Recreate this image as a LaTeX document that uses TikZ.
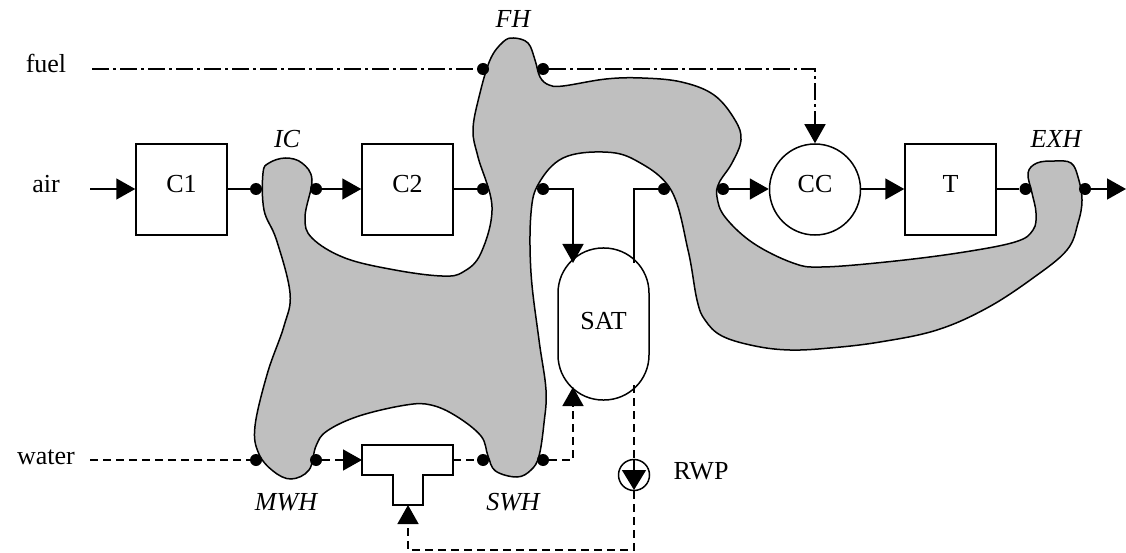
\documentclass[tikz,border=0pt]{standalone}
\usepackage{fontspec}
\setmainfont{Liberation Serif}
\usetikzlibrary{arrows.meta,calc}
\definecolor{hotgray}{HTML}{BFBFBF}
\tikzset{
  unitbox/.style={draw, line width=1.5pt, fill=white, minimum width=91pt, minimum height=91pt, inner sep=0pt, text height=14pt, text depth=7.6pt},
  ccbox/.style={unitbox, circle, minimum size=91pt},
  satbox/.style={draw, line width=1.5pt, fill=white, rounded corners=45pt, minimum width=91pt, minimum height=152pt, inner sep=0pt, text height=16pt, text depth=6pt},
  pumpbox/.style={draw, line width=1.5pt, circle, fill=white, minimum size=31pt, inner sep=0pt},
  port/.style={circle, fill=black, inner sep=0pt, minimum size=12pt},
  pipe/.style={line width=1.5pt},
  flowtip/.style={-{Triangle[length=19pt,width=21pt]}},
  waterline/.style={pipe, dash pattern=on 8pt off 5pt},
  fuelline/.style={pipe, dash pattern=on 17pt off 4pt on 3pt off 4pt},
  tag/.style={anchor=base, inner sep=0pt},
}
\begin{document}
\begin{tikzpicture}[x=1pt, y=-1pt, font=\fontsize{26}{30}\selectfont]
  \useasboundingbox (0,0) rectangle (1126,553);
  % heat exchanger composite
  \draw[fill=hotgray, line width=1.5pt] plot[smooth cycle, tension=0.62] coordinates {
    (285.5,158) (302,163) (312,180) (305,217) (312,238) (345,258) (395,270) (442,276)
    (463,272) (481,253) (492,207) (478,157) (473,130) (479,97) (490,60) (503,42)
    (513.5,38) (528,43) (535,60) (540,77) (549,85) (563,86) (606,79) (642,78)
    (681.5,82) (714,95) (735,120) (741,140) (732,163) (719,183) (717,197) (725,217)
    (753,243) (793,263) (821.5,267) (886,262) (958,253) (1015,242) (1033,230) (1036,213)
    (1032,193) (1028,173) (1037,163) (1055,161) (1071,163) (1078,177) (1082,200) (1078,223)
    (1067,250) (1033,278) (987,308) (937,330) (880,342) (830,348) (790,350) (755,346)
    (722,336) (705,320) (697,300) (688,250) (671,190) (635,160) (602.5,152) (563,158)
    (539,183) (531,213) (531,273) (539,340) (546,390) (544,423) (539,456) (531,470)
    (517,477) (495.5,471) (488,456) (481,436) (456,416) (431,405) (406,405) (359,416)
    (327,431) (316,446) (309,470) (291,479) (273,471) (258.5,453) (255,426) (267.5,373)
    (284,326) (290,293) (276.5,240) (264,210) (263,173) (269,163)};
  % units
  \node[unitbox] (c1) at (181.5,189.5) {C1};
  \node[unitbox] (c2) at (407.5,189.5) {C2};
  \node[ccbox] (cc) at (815,189.5) {CC};
  \node[unitbox] (turb) at (950.5,189.5) {T};
  \node[satbox] (sat) at (603.5,324) {SAT};
  \node[pumpbox] (rwp) at (634,475) {};
  % mixer
  \draw[fill=white, line width=1.5pt] (362,445) -- (453,445) -- (453,475) -- (423,475) -- (423,505) -- (393,505) -- (393,475) -- (362,475) -- cycle;
  \coordinate (mixin) at (362,460);
  \coordinate (mixout) at (453,460);
  \coordinate (mixret) at (408,505);
  % free ends
  \coordinate (airin) at (90,189);
  \coordinate (fuelin) at (92,69);
  \coordinate (waterin) at (90,460);
  \coordinate (exhout) at (1126,189);
  \coordinate (satin) at (573,263);
  \coordinate (satout) at (634,263);
  \coordinate (satwater) at (573,387);
  \coordinate (satdrain) at (634,385);
  \coordinate (retcorner) at (634,550);
  % ports: (name, x, y)
  \foreach \p/\x/\y in {icin/256/189, icout/316/189, fhain/483/189, fhaout/543/189, fhfin/483/69, fhfout/543/69,
      fhsin/664/189, fhsout/723/189, exhi/1025.5/189, exho/1085/189,
      mwhin/256/460, mwhout/316/460, swhin/483/460, swhout/543/460}
    \node[port] (\p) at (\x,\y) {};
  % air and gas path
  \draw[pipe, flowtip] (airin) -- (c1.west |- airin);
  \draw[pipe] (c1.east |- icin) -- (icin);
  \draw[pipe, flowtip] (icout) -- (c2.west |- icout);
  \draw[pipe] (c2.east |- fhain) -- (fhain);
  \draw[pipe, flowtip] (fhaout) -| (satin);
  \draw[pipe] (satout) |- (fhsin);
  \draw[pipe, flowtip] (fhsout) -- (cc.west |- fhsout);
  \draw[pipe, flowtip] (cc.east |- exhi) -- (turb.west |- exhi);
  \draw[pipe] (turb.east |- exhi) -- (exhi);
  \draw[pipe, flowtip] (exho) -- (exhout);
  % fuel
  \draw[fuelline] (fuelin) -- (fhfin);
  \draw[fuelline, flowtip] (fhfout) -| (cc.north);
  % water
  \draw[waterline] (waterin) -- (mwhin);
  \draw[waterline, flowtip] (mwhout) -- (mixin);
  \draw[waterline] (mixout) -- (swhin);
  \draw[waterline, flowtip] (swhout) -| (satwater);
  \draw[waterline] (satdrain) -- (rwp.north);
  \draw[pipe, -{Triangle[length=20pt,width=24pt]}] (rwp.north) -- (rwp.center) -- ++(0,15);
  \draw[waterline, flowtip] (rwp.south) |- (retcorner) -| (mixret);
  % labels
  \node[tag] (fuellab) at (46,72.7) {fuel};
  \node[tag] (airlab) at (46,192.7) {air};
  \node[tag] (waterlab) at (46,464.7) {water};
  \node[tag] (rwplab) at (701,479) {RWP};
  \node[tag] (fhlab) at (513,28) {\itshape FH};
  \node[tag] (iclab) at (287,148) {\itshape IC};
  \node[tag] (exhlab) at (1056,148) {\itshape EXH};
  \node[tag] (mwhlab) at (286,510) {\itshape MWH};
  \node[tag] (swhlab) at (513,510) {\itshape SWH};
\end{tikzpicture}
\end{document}
